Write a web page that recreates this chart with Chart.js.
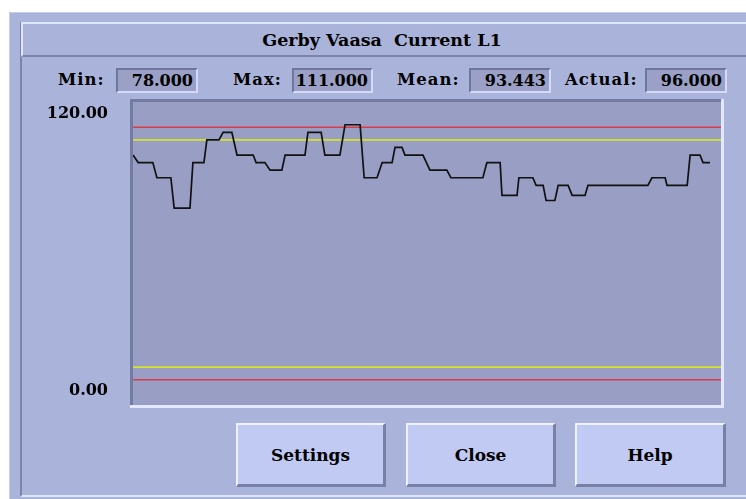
<!DOCTYPE html>
<html>
<head>
<meta charset="utf-8">
<script src="https://cdn.jsdelivr.net/npm/chart.js@4/dist/chart.umd.min.js"></script>
<style>
  body { margin:0; background:#fff; width:746px; height:499px; overflow:hidden; position:relative;
         font-family:"DejaVu Serif", serif; font-weight:bold; color:#000; }
  .outer { position:absolute; left:9px; top:12px; right:0; bottom:0; background:#aab4da;
           border-left:1px solid #c4cdf0; border-top:1px solid #c4cdf0; }
  .inner { position:absolute; left:20px; top:22px; width:740px; height:473px;
           border-left:2px solid #7c84ac; border-bottom:2px solid #dde4ff; }
  .title { position:absolute; left:21px; top:22px; width:740px; height:31px;
           border-top:2px solid #dfe5ff; border-left:2px solid #dfe5ff; border-bottom:2px solid #7c84ac;
           background:#aab4da; }
  .title span { position:absolute; left:0; width:718px; top:6px; text-align:center; font-size:17.5px; }
  .lbl { position:absolute; top:70px; font-size:16.5px; letter-spacing:1px; }
  .box { position:absolute; top:68px; height:21px; background:#9aa0c6; font-size:16px; text-align:right;
         border-top:2px solid #6e769e; border-left:2px solid #6e769e;
         border-bottom:2px solid #d4dbfa; border-right:2px solid #d4dbfa; box-sizing:content-box; }
  .box span { position:absolute; right:3px; top:1px; }
  .btn { position:absolute; top:423px; height:64px; background:#c0caf2; font-size:17px;
         border-top:2px solid #eef1ff; border-left:2px solid #eef1ff;
         border-bottom:3px solid #7880a8; border-right:3px solid #7880a8; box-sizing:border-box;
         display:flex; align-items:center; justify-content:center; }
  canvas { position:absolute; left:0; top:0; }
</style>
</head>
<body>
<div class="outer"></div>
<div class="inner"></div>
<div class="title"><span>Gerby Vaasa&nbsp; Current L1</span></div>
<div id="stats"></div>
<div class="btn" style="left:236px;width:150px">Settings</div>
<div class="btn" style="left:406px;width:150px">Close</div>
<div class="btn" style="left:575px;width:151px">Help</div>
<canvas id="myChart" width="746" height="499"></canvas>
<script>
// readings along the window, in minutes from the left edge
var minutes = [0,1.4,5.4,6.5,10.3,11.2,15.5,16.3,19.3,20.1,23.4,24.5,26.9,28.3,32.7,33.5,35.9,37.3,40.5,41.4,
  46.8,47.6,51.2,52.2,56.3,57.7,61.8,62.9,66.4,67.8,70.5,71.3,73.2,74.0,78.9,80.8,85.4,86.5,95.2,96.3,
  99.9,100.4,104.5,105.0,108.8,109.7,111.6,112.4,114.8,115.7,118.4,119.5,123.0,123.8,140.1,141.2,144.8,145.3,150.8,151.6,
  154.3,155.1,157.0];
var current = [99,96,96,90,90,78,78,96,96,105,105,108,108,99,99,96,96,93,93,99,
  99,108,108,99,99,111,111,90,90,96,96,102,102,99,99,93,93,90,90,96,
  96,83,83,90,90,87,87,81,81,87,87,83,83,87,87,90,90,87,87,99,
  99,96,96];

var windowMinutes = [0, 160];
var alarmLimits = [110, 10];
var warnLimits = [105, 15];
var yTicks = [120, 0];

var statLabels = ['Min:', 'Max:', 'Mean:', 'Actual:'];
var statValues = [78, 111, 93.443, 96];

// stats row (html)
var statPos = [[58,116,82],[233,292,81],[397,469,82],[565,645,82]];
var statsDiv = document.getElementById('stats');
statLabels.forEach(function(l, i){
  var p = statPos[i];
  statsDiv.innerHTML += '<div class="lbl" style="left:'+p[0]+'px">'+l+'</div>' +
    '<div class="box" style="left:'+p[1]+'px;width:'+(p[2]-4)+'px"><span>'+statValues[i].toFixed(3)+'</span></div>';
});

function limitLine(v){
  return windowMinutes.map(function(m){ return {x:m, y:v}; });
}

var panelPlugin = {
  id: 'panel',
  beforeDraw: function(chart){
    var a = chart.chartArea, ctx = chart.ctx;
    ctx.save();
    ctx.fillStyle = '#989ec4';
    ctx.fillRect(a.left, a.top, a.right - a.left, a.bottom - a.top);
    ctx.fillStyle = '#737ba3';
    ctx.fillRect(a.left - 3, a.top - 3, 3, a.bottom - a.top + 3);
    ctx.fillRect(a.left - 3, a.top - 3, a.right - a.left + 3, 3);
    ctx.fillStyle = '#e2e8ff';
    ctx.fillRect(a.right, a.top - 3, 3, a.bottom - a.top + 6);
    ctx.fillRect(a.left - 3, a.bottom, a.right - a.left + 6, 3);
    ctx.restore();
  },
  afterDraw: function(chart){
    var ctx = chart.ctx, y = chart.scales.y;
    ctx.save();
    ctx.font = 'bold 16px "DejaVu Serif"';
    ctx.fillStyle = '#000';
    ctx.textAlign = 'right';
    yTicks.forEach(function(v, i){
      var py = y.getPixelForValue(v);
      ctx.textBaseline = i == 0 ? 'top' : 'bottom';
      ctx.fillText(v.toFixed(2), 108, i == 0 ? py + 4 : py - 6);
    });
    ctx.restore();
  }
};

var ctxDir = document.getElementById('myChart');
var lineChart = new Chart(ctxDir, {
  type: 'line',
  data: {
    datasets: [
      { label: 'Current L1', data: minutes.map(function(m, i){ return {x:m, y:current[i]}; }),
        borderColor: '#111', borderWidth: 1.7 },
      { label: 'alarm high', data: limitLine(alarmLimits[0]), borderColor: '#dc3c48', borderWidth: 1.6 },
      { label: 'warn high', data: limitLine(warnLimits[0]), borderColor: '#d6e22a', borderWidth: 1.6 },
      { label: 'warn low', data: limitLine(warnLimits[1]), borderColor: '#d6e22a', borderWidth: 1.6 },
      { label: 'alarm low', data: limitLine(alarmLimits[1]), borderColor: '#dc3c48', borderWidth: 1.6 }
    ]
  },
  options: {
    responsive: false,
    animation: false,
    devicePixelRatio: 1,
    layout: { padding: { left: 133, top: 102, right: 25, bottom: 94 } },
    elements: { point: { radius: 0 }, line: { tension: 0, fill: false } },
    scales: {
      x: { type: 'linear', min: windowMinutes[0], max: windowMinutes[1], display: false },
      y: { min: 0, max: 120, display: false }
    },
    plugins: { legend: { display: false }, tooltip: { enabled: false } }
  },
  plugins: [panelPlugin]
});
</script>
</body>
</html>
